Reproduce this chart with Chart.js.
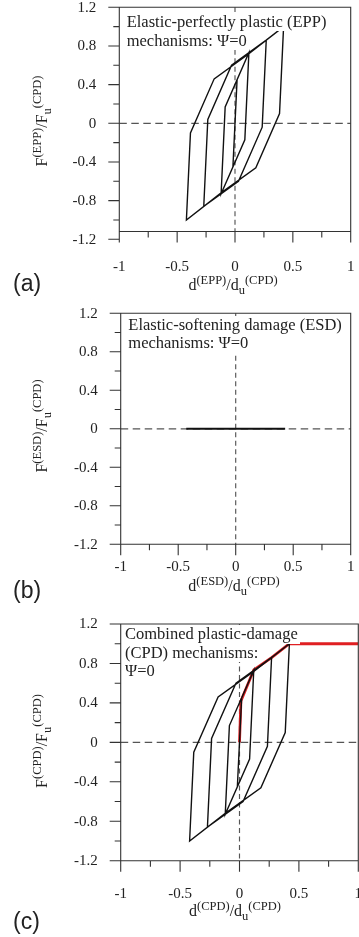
<!DOCTYPE html>
<html><head><meta charset="utf-8">
<script src="https://cdn.jsdelivr.net/npm/chart.js@4.4.1/dist/chart.umd.min.js"></script>
<style>
html,body{margin:0;padding:0;background:#fff;}
body{width:359px;height:937px;position:relative;overflow:hidden;font-family:"Liberation Serif","Times New Roman",serif;color:#222;}
canvas{position:absolute;left:0;}
.note{position:absolute;font-size:16.5px;line-height:19px;z-index:2;}
.note div{display:table;background:#fff;padding-right:2px;white-space:nowrap;}
.xt,.yt{position:absolute;font-size:16px;line-height:16px;white-space:nowrap;z-index:2;}
.xt{transform:translate(-50%,-50%);}
.yt{transform:translate(-50%,-50%) rotate(-90deg);}
.sp{font-size:12.5px;position:relative;top:-6px;}
.sb{font-size:12.5px;position:relative;top:4px;}
.lab{position:absolute;left:13px;font-family:"Liberation Sans",Arial,sans-serif;font-size:23px;line-height:23px;transform:translateY(-50%);}
</style></head>
<body>
<canvas id="ca" width="359" height="300" style="top:0px"></canvas>
<canvas id="cb" width="359" height="305" style="top:300px"></canvas>
<canvas id="cc" width="359" height="327" style="top:610px"></canvas>

<div class="note" style="left:126.7px;top:12.2px"><div>Elastic-perfectly plastic (EPP)</div><div>mechanisms: Ψ=0</div></div>
<div class="note" style="left:128.3px;top:315.5px;line-height:18.5px"><div>Elastic-softening damage (ESD)</div><div>mechanisms: Ψ=0</div></div>
<div class="note" style="left:125px;top:625px;line-height:18.5px"><div>Combined plastic-damage</div><div>(CPD) mechanisms:</div><div>Ψ=0</div></div>

<div class="xt" style="left:233px;top:285px">d<span class="sp">(EPP)</span>/d<span class="sb">u</span><span class="sp">(CPD)</span></div>
<div class="xt" style="left:234px;top:586px">d<span class="sp">(ESD)</span>/d<span class="sb">u</span><span class="sp">(CPD)</span></div>
<div class="xt" style="left:235px;top:911px">d<span class="sp">(CPD)</span>/d<span class="sb">u</span><span class="sp">(CPD)</span></div>

<div class="yt" style="left:42px;top:121px">F<span class="sp">(EPP)</span>/F<span class="sb">u</span><span class="sp">(CPD)</span></div>
<div class="yt" style="left:42px;top:426px">F<span class="sp">(ESD)</span>/F<span class="sb">u</span><span class="sp">(CPD)</span></div>
<div class="yt" style="left:42px;top:741px">F<span class="sp">(CPD)</span>/F<span class="sb">u</span><span class="sp">(CPD)</span></div>

<div class="lab" style="top:283px">(a)</div>
<div class="lab" style="top:590px">(b)</div>
<div class="lab" style="top:921px">(c)</div>

<script>
// ---- tick values and labels ----
const xMajorTicks = [-1, -0.5, 0, 0.5, 1];
const xMinorTicks = [-0.75, -0.25, 0.25, 0.75];
const xTickLabels = ['-1', '-0.5', '0', '0.5', '1'];
const yMajorTicks = [1.2, 0.8, 0.4, 0, -0.4, -0.8, -1.2];
const yMinorTicks = [1.0, 0.6, 0.2, -0.2, -0.6, -1.0];
const yTickLabels = ['1.2', '0.8', '0.4', '0', '-0.4', '-0.8', '-1.2'];

// ---- (a) EPP hysteresis (normalised displacement / force) ----
const eppDisp  = [0, 0.018, -0.018, 0.018, 0.12, 0.085, -0.12, -0.085, 0.12, 0.27, 0.235, 0.03, -0.27, -0.235, -0.03, 0.27, 0.42, 0.385, 0.18, -0.12, -0.42, -0.385, -0.18, 0.12, 0.42];
const eppForce = [0, 0.45, -0.45, 0.45, 0.73, -0.17, -0.73, 0.17, 0.73, 0.86, -0.04, -0.60, -0.86, 0.04, 0.60, 0.86, 1.0, 0.10, -0.46, -0.72, -1.0, -0.10, 0.46, 0.72, 1.0];

// ---- (b) ESD response ----
const esdDisp  = [-0.43, 0, 0.43];
const esdForce = [0, 0, 0];

// ---- (c) CPD hysteresis ----
const cpdDisp  = [0, 0.018, -0.018, 0.018, 0.12, 0.085, -0.12, -0.085, 0.12, 0.27, 0.235, 0.03, -0.27, -0.235, -0.03, 0.27, 0.42, 0.385, 0.18, -0.12, -0.42, -0.385, -0.18, 0.12, 0.42];
const cpdForce = [0, 0.45, -0.45, 0.45, 0.73, -0.17, -0.73, 0.17, 0.73, 0.86, -0.04, -0.60, -0.86, 0.04, 0.60, 0.86, 1.0, 0.10, -0.46, -0.72, -1.0, -0.10, 0.46, 0.72, 1.0];

// ---- (c) CPD monotonic envelope (red) ----
const cpdEnvDisp  = [0, 0.012, 0.12, 0.27, 0.42, 1.0];
const cpdEnvForce = [0, 0.42, 0.735, 0.86, 1.0, 1.0];

const pts = (xs, ys) => xs.map((v, i) => ({x: v, y: ys[i]}));

const paperAxes = {
  id: 'paperAxes',
  beforeDatasetsDraw(chart, args, o) {
    const ctx = chart.ctx, sx = chart.scales.x, sy = chart.scales.y;
    const X = v => sx.getPixelForValue(v), Y = v => sy.getPixelForValue(v);
    ctx.save();
    ctx.lineWidth = 1.15; ctx.strokeStyle = '#555';
    ctx.setLineDash([7.5, 4.5]);
    ctx.beginPath(); ctx.moveTo(X(sx.min), Y(0)); ctx.lineTo(X(sx.max), Y(0)); ctx.stroke();
    ctx.setLineDash([5, 3.5]);
    ctx.beginPath(); ctx.moveTo(X(0), Y(sy.max)); ctx.lineTo(X(0), Y(o.xAxisAt)); ctx.stroke();
    ctx.restore();
  },
  afterDatasetsDraw(chart, args, o) {
    const ctx = chart.ctx, sx = chart.scales.x, sy = chart.scales.y;
    const X = v => sx.getPixelForValue(v), Y = v => sy.getPixelForValue(v);
    const L = X(sx.min), R = X(sx.max), T = Y(sy.max), B = Y(o.xAxisAt), Bm = Y(sy.min);
    ctx.save();
    ctx.setLineDash([]); ctx.strokeStyle = '#333'; ctx.lineWidth = 1.1;
    ctx.beginPath();
    ctx.moveTo(L, Bm); ctx.lineTo(L, T); ctx.lineTo(R, T); ctx.lineTo(R, B);
    ctx.moveTo(L, B); ctx.lineTo(R, B);
    yMajorTicks.forEach(v => { ctx.moveTo(L - 11, Y(v)); ctx.lineTo(L, Y(v)); });
    yMinorTicks.forEach(v => { ctx.moveTo(L - 6, Y(v)); ctx.lineTo(L, Y(v)); });
    xMajorTicks.forEach(v => { ctx.moveTo(X(v), B); ctx.lineTo(X(v), B + 11); });
    xMinorTicks.forEach(v => { ctx.moveTo(X(v), B); ctx.lineTo(X(v), B + 6); });
    ctx.stroke();
    ctx.fillStyle = '#222';
    ctx.font = '15px "Liberation Serif"';
    ctx.textAlign = 'right'; ctx.textBaseline = 'middle';
    yMajorTicks.forEach((v, i) => ctx.fillText(yTickLabels[i], L - 23, Y(v) + 0.5));
    ctx.textAlign = 'center';
    xMajorTicks.forEach((v, i) => ctx.fillText(xTickLabels[i], X(v), B + o.xLabelGap));
    ctx.restore();
  }
};

function makeChart(id, datasets, padding, axOpts) {
  return new Chart(document.getElementById(id), {
    type: 'scatter',
    data: { datasets },
    options: {
      responsive: false, animation: false, devicePixelRatio: 1,
      layout: { padding, autoPadding: false },
      scales: {
        x: { type: 'linear', min: -1, max: 1, display: false },
        y: { type: 'linear', min: -1.2, max: 1.2, display: false }
      },
      plugins: { legend: { display: false }, tooltip: { enabled: false }, paperAxes: axOpts },
      elements: { point: { radius: 0, hoverRadius: 0 }, line: { tension: 0 } }
    },
    plugins: [paperAxes]
  });
}

const blackLine = (data, w) => ({ data, showLine: true, borderColor: '#111', borderWidth: w, pointRadius: 0, fill: false });

makeChart('ca', [blackLine(pts(eppDisp, eppForce), 1.4)],
  { left: 119.3, right: 8.3, top: 7.3, bottom: 60.7 }, { xAxisAt: -1.12, xLabelGap: 35 });

makeChart('cb', [blackLine(pts(esdDisp, esdForce), 1.9)],
  { left: 120.7, right: 8.3, top: 13.3, bottom: 60.7 }, { xAxisAt: -1.2, xLabelGap: 22.4 });

makeChart('cc', [
    blackLine(pts(cpdDisp, cpdForce), 1.4),
    { data: pts(cpdEnvDisp, cpdEnvForce), showLine: true, borderColor: '#e01f22', borderWidth: 2.8, pointRadius: 0, fill: false }
  ],
  { left: 120.7, right: 0.7, top: 14, bottom: 76.3 }, { xAxisAt: -1.2, xLabelGap: 33.3 });
</script>
</body></html>
